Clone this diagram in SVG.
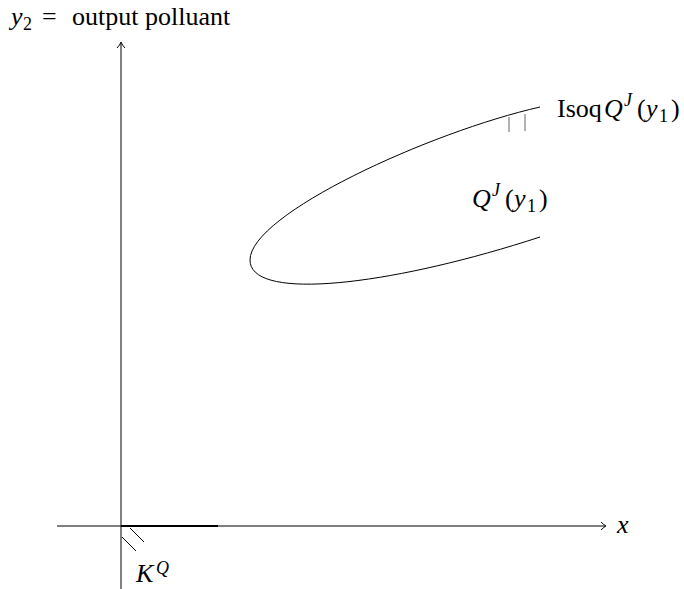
<svg xmlns="http://www.w3.org/2000/svg" width="684" height="589" viewBox="0 0 684 589">
<style>
.t{font-family:"Liberation Serif","Times New Roman",serif;font-size:26px;fill:#000}
.m{font-style:italic}
.sup{font-size:18px}
.ln{stroke:#000;stroke-width:1;fill:none}
</style>
<rect width="684" height="589" fill="#fff"/>
<g id="connectors">
<line class="ln" x1="121" y1="589" x2="121" y2="43"/>
<path class="ln" d="M117,48 Q120,45 121,42 Q122,45 125,48"/>
<line class="ln" x1="57" y1="526" x2="605" y2="526"/>
<path class="ln" d="M601,522 Q604,525 606,526 Q604,527 601,530"/>
</g>
<g id="cone">
<line x1="121" y1="526" x2="218" y2="526" stroke="#000" stroke-width="2"/>
<line class="ln" x1="130" y1="528" x2="144" y2="542"/>
<line class="ln" x1="122" y1="537" x2="136" y2="551"/>
<text class="t m" x="136" y="582">K</text>
<text class="t m sup" x="156" y="574">Q</text>
</g>
<g id="isoquant">
<path class="ln" d="M540,107 C430,132 250,214 250,260 C250,302 390,286 540,237"/>
<line x1="509" y1="117" x2="509" y2="132" stroke="#666" stroke-width="1"/>
<line x1="525" y1="114" x2="525" y2="131" stroke="#666" stroke-width="1"/>
</g>
<g id="labels">
<text class="t m" x="11" y="25">y</text>
<text class="t sup" x="23" y="30">2</text>
<text class="t" x="42" y="25" font-size="30">=</text>
<text class="t" x="72" y="25">output polluant</text>

<text class="t" x="557" y="117">Isoq</text>
<text class="t m" x="604" y="117">Q</text>
<text class="t m sup" x="624" y="106">J</text>
<text class="t" x="637" y="117">(</text>
<text class="t m" x="646" y="117">y</text>
<text class="t sup" x="659" y="122">1</text>
<text class="t" x="671" y="117">)</text>

<text class="t m" x="472" y="207">Q</text>
<text class="t m sup" x="492" y="196">J</text>
<text class="t" x="505" y="207">(</text>
<text class="t m" x="514" y="207">y</text>
<text class="t sup" x="527" y="212">1</text>
<text class="t" x="539" y="207">)</text>

<text class="t m" x="617" y="533">x</text>
</g>
</svg>
